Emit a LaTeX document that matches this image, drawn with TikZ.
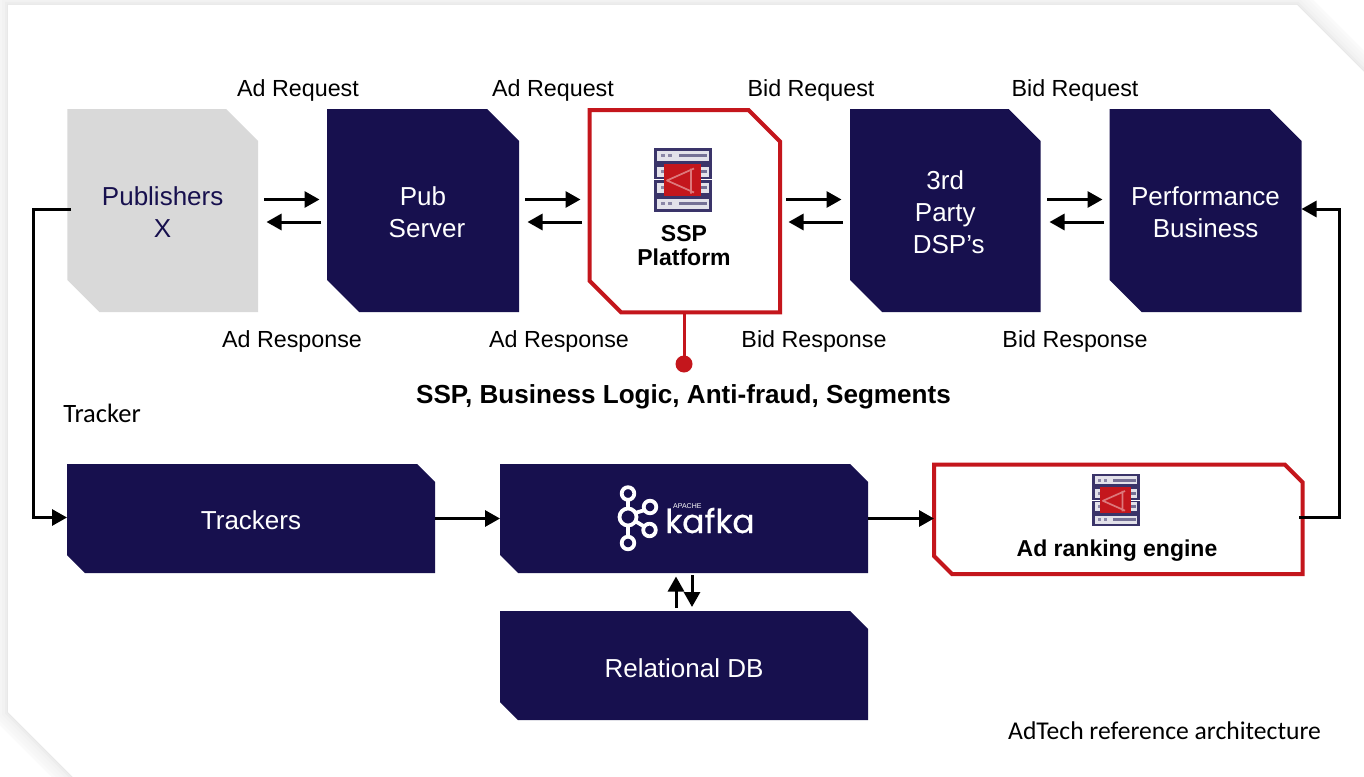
\documentclass[tikz,border=0pt]{standalone}
\usepackage{fontspec}
\setmainfont{Liberation Sans}
\newfontfamily\carl{Carlito}
\newfontfamily\kaf[FakeBold=0.6]{Poppins}
\usetikzlibrary{arrows.meta}
\definecolor{navy}{HTML}{17104E}
\definecolor{ssred}{HTML}{C4161C}
\definecolor{pubgray}{HTML}{D9D9D9}
\tikzset{
  x=1pt,y=-1pt,
  boxtxt/.style={inner sep=0pt,outer sep=0pt,align=center,yshift=-1.5pt,font=\fontsize{26}{32}\selectfont},
  navyfill/.style={fill=navy},
  grayfill/.style={fill=pubgray},
  redline/.style={draw=ssred,line width=4pt,fill=white,line join=miter},
  lbl/.style={font=\fontsize{23.3}{26}\selectfont,inner sep=0pt,text=black},
  arr/.style={line width=3pt,-{Triangle[length=15pt,width=16pt]},black},
  boldtxt/.style={font=\bfseries\fontsize{23}{24}\selectfont,inner sep=0pt,align=center,text=black},
}
% name, x0, y0, x1, y1, chamfer, polygon style, node style, text
\newcommand{\chambox}[9]{%
  \pgfmathsetmacro{\bxw}{#4-#2}\pgfmathsetmacro{\bxh}{#5-#3}%
  \pgfmathsetmacro{\bxcx}{(#2+#4)/2}\pgfmathsetmacro{\bxcy}{(#3+#5)/2}%
  \pgfmathsetmacro{\bxa}{#4-#6}\pgfmathsetmacro{\bxb}{#3+#6}%
  \pgfmathsetmacro{\bxd}{#2+#6}\pgfmathsetmacro{\bxe}{#5-#6}%
  \path[#7] (#2,#3) -- (\bxa,#3) -- (#4,\bxb) -- (#4,#5) -- (\bxd,#5) -- (#2,\bxe) -- cycle;
  \node[boxtxt,minimum width=\bxw pt,minimum height=\bxh pt,#8] (#1) at (\bxcx,\bxcy) {#9};
}
\newcommand{\serverrow}[2]{%
  \fill[navy!85] (#1-29,#2-8) rectangle (#1+29,#2+8);
  \fill[white!88!navy] (#1-26,#2-5) rectangle (#1+26,#2+5);
  \fill[navy!60] (#1-4,#2-1.5) rectangle (#1+24,#2+1.5);
  \fill[navy!50] (#1-22,#2-1.5) rectangle (#1-18,#2+1.5);
  \fill[navy!50] (#1-15,#2-1.5) rectangle (#1-11,#2+1.5);
}
\newcommand{\servericon}[2]{%
  \begin{scope}[shift={(#1)},scale=#2]
    \serverrow{0}{-24}\serverrow{0}{-8}\serverrow{0}{8}\serverrow{0}{24}
    \fill[white] (-29,-0.4) rectangle (29,0.4);
    \fill[ssred] (-19,-16) rectangle (18,16);
    \draw[white!42!ssred,line width=1.7pt,line join=round] (11,-11) -- (-16,1) -- (11,13) (8,-11) -- (8,14);
  \end{scope}
}
\begin{document}
\begin{tikzpicture}
\useasboundingbox (0,0) rectangle (1364,776);
\begin{scope}
\clip (0,0) rectangle (1364,776);
\fill[white] (0,0) rectangle (1364,776);
% sheet shadow
\foreach \w/\c in {30/2,24/3,18/4,12/5,6/7,2/9}{
  \draw[line width=\w pt,black!\c!white,line join=miter]
    (8,5) -- (1297,5) -- (1400,108) -- (1400,800) -- (96,800) -- (8,712) -- cycle;
}
\fill[white] (8,5) -- (1297,5) -- (1400,108) -- (1400,800) -- (96,800) -- (8,712) -- cycle;
\end{scope}

% top row
\chambox{pub}{67.3}{109}{258}{312}{32}{grayfill}{text=navy}{Publishers\\X}
\chambox{srv}{327}{109}{519}{312}{32}{navyfill}{text=white}{Pub\\\hspace*{8pt}Server}
\chambox{ssp}{589.5}{110}{780}{312.3}{31.5}{redline}{}{}
\chambox{dsp}{850}{109}{1040.5}{312}{32}{navyfill}{text=white}{3rd\\Party\\\hspace*{7pt}DSP’s}
\chambox{perf}{1109.5}{109}{1301.5}{312}{32}{navyfill}{text=white}{Performance\\Business}
\servericon{683,179.5}{1}
\node[boldtxt] (sspt) at (684,246) {SSP\\Platform};

% bottom row
\chambox{trk}{67}{464}{435}{573}{18}{navyfill}{text=white}{Trackers}
\chambox{kfk}{500}{464}{868}{573}{18}{navyfill}{}{}
\chambox{rank}{934}{464.5}{1302.7}{574}{18}{redline}{}{}
\chambox{rdb}{500}{611}{868}{720}{18}{navyfill}{text=white,yshift=-1.5pt}{Relational DB}
\servericon{1116,500}{0.82}
\node[boldtxt] (rankt) at (1117,551) {Ad ranking engine};

% kafka logo
\begin{scope}[white,line width=3.8pt]
  \draw (628,493.5) circle (6.3);
  \draw (628,517) circle (8.5);
  \draw (628,543) circle (6.3);
  \draw (650,507) circle (6.3);
  \draw (649.5,530) circle (6.3);
  \draw (628,499) -- (628,509) (628,525) -- (628,537);
  \draw (635,513) -- (645,510) (635,521) -- (645,527);
\end{scope}
\node[inner sep=0pt,text=white,font=\fontsize{33}{33}\kaf\selectfont,anchor=base west] (kfkt) at (665,533) {kafka};
\node[inner sep=0pt,text=white,font=\fontsize{7}{7}\selectfont,anchor=base west] (kfka) at (673,508) {APACHE};

% labels
\node[lbl] (l1) at (298,90) {Ad Request};
\node[lbl] (l2) at (553,90) {Ad Request};
\node[lbl] (l3) at (811,90) {Bid Request};
\node[lbl] (l4) at (1075,90) {Bid Request};
\node[lbl] (l5) at (292,341) {Ad Response};
\node[lbl] (l6) at (559,341) {Ad Response};
\node[lbl] (l7) at (814,341) {Bid Response};
\node[lbl] (l8) at (1075,341) {Bid Response};
\node[inner sep=0pt,font=\bfseries\fontsize{26.1}{30}\selectfont] (logic) at (683.5,397) {SSP, Business Logic, Anti-fraud, Segments};
\node[inner sep=0pt,font=\carl\fontsize{26.5}{28}\selectfont] (trl) at (102,413) {Tracker};
\node[inner sep=0pt,font=\carl\fontsize{25.6}{28}\selectfont] (cap) at (1164.5,731) {AdTech reference architecture};

% horizontal arrow pairs
\foreach \ax/\bx in {264/321,525/582,786/843,1047/1104}{
  \pgfmathsetmacro{\tipr}{\bx-1.5}\pgfmathsetmacro{\tipl}{\ax+2.5}
  \coordinate (a\ax) at (\ax,199.5); \coordinate (b\ax) at (\tipr,199.5);
  \coordinate (c\ax) at (\bx,222);   \coordinate (d\ax) at (\tipl,222);
  \draw[arr] (a\ax) -- (b\ax);
  \draw[arr] (c\ax) -- (d\ax);
}
% ssp pin
\coordinate (pin) at (684,364);
\draw[ssred,line width=3pt] (ssp.south -| pin) -- (pin);
\fill[ssred] (pin) circle (8.5);
% connectors
\coordinate (pt1) at (71,209.5);
\coordinate (pt2) at (33.5,209.5);
\draw[arr,line join=miter] (pt1) -- (pt2) |- (trk.west |- 0,517.5);
\draw[arr] (trk.east |- 0,518.5) -- (kfk.west |- 0,518.5);
\draw[arr] (kfk.east |- 0,518.5) -- (rank.west |- 0,518.5);
\coordinate (rq) at (1339.5,517.5);
\coordinate (rr) at (1299,517.5);
\draw[arr,line join=miter] (rr) -- (rq) |- (perf.east |- 0,209);
\coordinate (u1) at (676,608); \coordinate (u2) at (676,576.5);
\coordinate (d1) at (692,575); \coordinate (d2) at (692,607);
\draw[arr] (u1) -- (u2);
\draw[arr] (d1) -- (d2);
\end{tikzpicture}
\end{document}
